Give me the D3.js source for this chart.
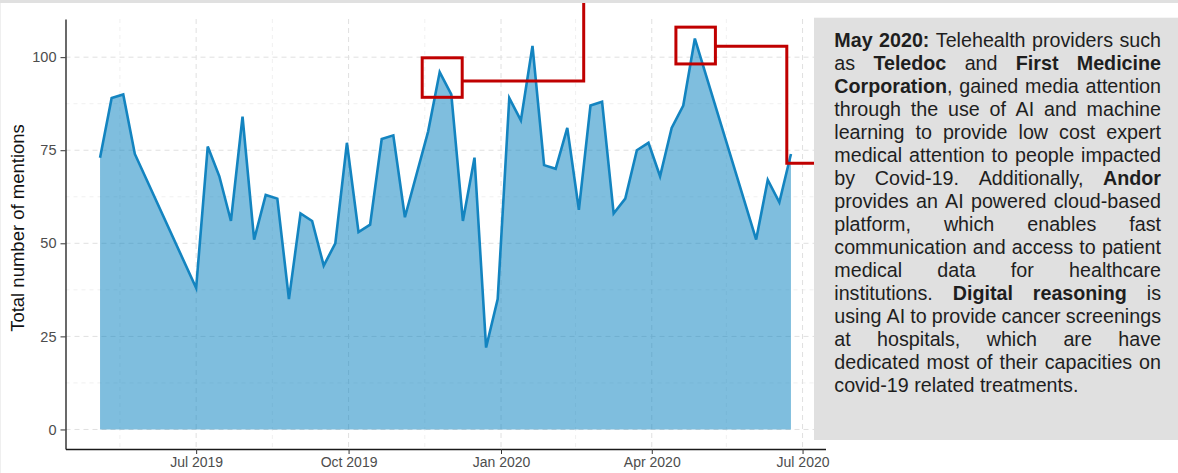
<!DOCTYPE html>
<html>
<head>
<meta charset="utf-8">
<script src="https://cdn.jsdelivr.net/npm/d3@7"></script>
<style>
  html, body { margin: 0; padding: 0; background: #ffffff; }
  svg { display: block; font-family: "Liberation Sans", Arial, Helvetica, sans-serif; }
</style>
</head>
<body>
<svg id="chart" width="1178" height="473"></svg>
<script>
// ---------------- data ----------------
const dates = [
  "2019-05-04","2019-05-11","2019-05-18","2019-05-25",
  "2019-07-01","2019-07-08","2019-07-15","2019-07-22","2019-07-29",
  "2019-08-05","2019-08-12","2019-08-19","2019-08-26",
  "2019-09-02","2019-09-09","2019-09-16","2019-09-23","2019-09-30",
  "2019-10-07","2019-10-14","2019-10-21","2019-10-28","2019-11-04",
  "2019-11-18","2019-11-25","2019-12-02","2019-12-09","2019-12-16","2019-12-23","2019-12-30",
  "2020-01-06","2020-01-13","2020-01-20","2020-01-27",
  "2020-02-03","2020-02-10","2020-02-17","2020-02-24",
  "2020-03-02","2020-03-09","2020-03-16","2020-03-23","2020-03-30",
  "2020-04-06","2020-04-13","2020-04-20","2020-04-27",
  "2020-06-03","2020-06-10","2020-06-17","2020-06-24"
];
const mentions = [
  73, 89, 90, 74,
  38, 76, 68, 56, 84,
  51, 63, 62, 35,
  58, 56, 44, 50, 77,
  53, 55, 78, 79, 57,
  80, 96, 90, 56, 73, 22, 35,
  89, 83, 103, 71,
  70, 81, 59, 87,
  88, 58, 62, 75, 77,
  68, 81, 87, 105,
  51, 67, 61, 74
];
const xTickDates = ["2019-07-01","2019-10-01","2020-01-01","2020-04-01","2020-07-01"];
const xMinorDates = ["2019-05-16","2019-08-16","2019-11-16","2020-02-15","2020-05-16"];
const yTicks = [0, 25, 50, 75, 100];
const yMinor = [12.5, 37.5, 62.5, 87.5];
const yTitle = "Total number of mentions";
const highlightDates = ["2019-11-25", "2020-04-27"];
const noteLines = [
  "**May 2020:** Telehealth providers such",
  "as **Teledoc** and **First Medicine**",
  "**Corporation**, gained media attention",
  "through the use of AI and machine",
  "learning to provide low cost expert",
  "medical attention to people impacted",
  "by Covid-19. Additionally, **Andor**",
  "provides an AI powered cloud-based",
  "platform, which enables fast",
  "communication and access to patient",
  "medical data for healthcare",
  "institutions. **Digital reasoning** is",
  "using AI to provide cancer screenings",
  "at hospitals, which are have",
  "dedicated most of their capacities on",
  "covid-19 related treatments."
];

// ---------------- setup ----------------
const parse = d3.utcParse("%Y-%m-%d");
const data = dates.map((d, i) => ({ date: parse(d), value: mentions[i] }));

const W = 1178, H = 473;
const panel = { left: 65.5, right: 825.5, top: 19, bottom: 449 };

const svg = d3.select("#chart");
svg.append("rect").attr("width", W).attr("height", H).attr("fill", "#ffffff");

// x scale with 5% expansion (ggplot style)
const ext = d3.extent(data, d => d.date);
const span = ext[1] - ext[0];
const x = d3.scaleUtc()
  .domain([new Date(+ext[0] - span * 0.05), new Date(+ext[1] + span * 0.05)])
  .range([panel.left, panel.right]);

const yMax = d3.max(mentions);
const y = d3.scaleLinear()
  .domain([0 - yMax * 0.05, yMax * 1.05])
  .range([panel.bottom, panel.top]);

// ---------------- grid ----------------
const grid = svg.append("g");
grid.selectAll("line.ymin").data(yMinor).join("line")
  .attr("x1", panel.left).attr("x2", panel.right)
  .attr("y1", d => y(d)).attr("y2", d => y(d))
  .attr("stroke", "#ececec").attr("stroke-width", 0.8).attr("stroke-dasharray", "4,4");
grid.selectAll("line.xmin").data(xMinorDates.map(parse)).join("line")
  .attr("y1", panel.top).attr("y2", panel.bottom)
  .attr("x1", d => x(d)).attr("x2", d => x(d))
  .attr("stroke", "#ececec").attr("stroke-width", 0.8).attr("stroke-dasharray", "4,4");
grid.selectAll("line.ymaj").data(yTicks).join("line")
  .attr("x1", panel.left).attr("x2", panel.right)
  .attr("y1", d => y(d)).attr("y2", d => y(d))
  .attr("stroke", "#e0e0e0").attr("stroke-width", 1).attr("stroke-dasharray", "5,4");
grid.selectAll("line.xmaj").data(xTickDates.map(parse)).join("line")
  .attr("y1", panel.top).attr("y2", panel.bottom)
  .attr("x1", d => x(d)).attr("x2", d => x(d))
  .attr("stroke", "#e0e0e0").attr("stroke-width", 1).attr("stroke-dasharray", "5,4");

// ---------------- area + line ----------------
const area = d3.area().x(d => x(d.date)).y0(y(0)).y1(d => y(d.value));
const line = d3.line().x(d => x(d.date)).y(d => y(d.value));
svg.append("path").datum(data).attr("d", area)
  .attr("fill", "rgb(0,126,190)").attr("fill-opacity", 0.5);
svg.append("path").datum(data).attr("d", line)
  .attr("fill", "none").attr("stroke", "#1384c0").attr("stroke-width", 2.6)
  .attr("stroke-linejoin", "miter");

// ---------------- axes ----------------
const xAxis = d3.axisBottom(x).tickValues(xTickDates.map(parse))
  .tickFormat(d3.utcFormat("%b %Y")).tickSize(5).tickSizeOuter(0).tickPadding(3);
const gx = svg.append("g").attr("transform", `translate(0,${panel.bottom})`).call(xAxis);
gx.select(".domain").attr("stroke", "#1a1a1a").attr("stroke-width", 1.3);
gx.selectAll(".tick line").attr("stroke", "#333").attr("stroke-width", 1);
gx.selectAll(".tick text").attr("fill", "#4d4d4d").attr("font-size", "14px")
  .attr("font-family", "'Liberation Sans', Arial, sans-serif");

const yAxis = d3.axisLeft(y).tickValues(yTicks).tickSize(5).tickSizeOuter(0).tickPadding(4);
const gy = svg.append("g").attr("transform", `translate(${panel.left},0)`).call(yAxis);
gy.select(".domain").attr("stroke", "#1a1a1a").attr("stroke-width", 1.3);
gy.selectAll(".tick line").attr("stroke", "#333").attr("stroke-width", 1);
gy.selectAll(".tick text").attr("fill", "#4d4d4d").attr("font-size", "14.5px")
  .attr("font-family", "'Liberation Sans', Arial, sans-serif");

svg.append("text")
  .attr("transform", `translate(24,228) rotate(-90)`)
  .attr("text-anchor", "middle")
  .attr("font-size", "18.5px").attr("fill", "#111")
  .text(yTitle);

// ---------------- annotations ----------------
const red = "#c00000";
const hl = highlightDates.map(s => data.find(d => +d.date === +parse(s)));
// box 1 around Nov 2019 peak
const b1 = { cx: x(hl[0].date) + 2.5, cy: y(hl[0].value) + 5.5, w: 40, h: 39.5 };
// box 2 around May 2020 peak
const b2 = { cx: x(hl[1].date) + 0.8, cy: y(hl[1].value) + 7, w: 39.5, h: 36.8 };
const ann = svg.append("g").attr("fill", "none").attr("stroke", red).attr("stroke-width", 3);
[b1, b2].forEach(b => {
  ann.append("rect").attr("x", b.cx - b.w / 2).attr("y", b.cy - b.h / 2)
    .attr("width", b.w).attr("height", b.h);
});
const c1x = 583.7, c1y = b1.cy + 3.5;
ann.append("path").attr("d", `M${b1.cx + b1.w / 2},${c1y}H${c1x}V0`).attr("stroke-linejoin", "miter");
const c2y = b2.cy + 0.6, c2x = 786.8, c2y2 = 163.3;
ann.append("path").attr("d", `M${b2.cx + b2.w / 2},${c2y}H${c2x}V${c2y2}H816`).attr("stroke-linejoin", "miter");

// ---------------- frame bits ----------------
svg.append("rect").attr("x", 0).attr("y", 0).attr("width", W).attr("height", 3).attr("fill", "#e0e0e0");
svg.append("line").attr("x1", 0.5).attr("x2", 0.5).attr("y1", 3).attr("y2", H)
  .attr("stroke", "#efefef").attr("stroke-width", 1);

// ---------------- note box ----------------
const box = { x: 814, y: 17.7, w: W - 814, h: 440 - 17.7 };
svg.append("rect").attr("x", box.x).attr("y", box.y).attr("width", box.w).attr("height", box.h)
  .attr("fill", "#e0e0e0");

const tx0 = 834.3, tx1 = 1161, fs = 19.7, base0 = 46.5, lh = 23.05;
function parseLine(line) {
  const parts = line.split("**");
  const words = [];
  let cur = [];
  parts.forEach((p, i) => {
    const bold = i % 2 === 1;
    p.split(" ").forEach((piece, j) => {
      if (j > 0) { if (cur.length) words.push(cur); cur = []; }
      if (piece) cur.push({ t: piece, b: bold });
    });
  });
  if (cur.length) words.push(cur);
  return words;
}
const note = svg.append("g").attr("font-size", fs + "px").attr("fill", "#1e1e1e");
noteLines.forEach((ln, li) => {
  const words = parseLine(ln);
  const by = base0 + li * lh;
  const nodes = words.map(w => {
    const t = note.append("text").attr("y", by);
    w.forEach(r => t.append("tspan").attr("font-weight", r.b ? "bold" : "normal").text(r.t));
    return t;
  });
  let widths = nodes.map(n => n.node().getComputedTextLength());
  let total = d3.sum(widths);
  const last = li === noteLines.length - 1;
  const spaceW = fs * 0.278;
  let gap = last || words.length < 2 ? spaceW : (tx1 - tx0 - total) / (words.length - 1);
  if (!last && gap < 3.5) {
    // squeeze slightly so the line still fits the justified width
    const k = (tx1 - tx0 - 3.5 * (words.length - 1)) / total;
    nodes.forEach((n, i) => n.attr("textLength", widths[i] * k).attr("lengthAdjust", "spacingAndGlyphs"));
    widths = widths.map(w => w * k);
    gap = 3.5;
  }
  let cx = tx0;
  nodes.forEach((n, i) => { n.attr("x", cx); cx += widths[i] + gap; });
});
</script>
</body>
</html>
